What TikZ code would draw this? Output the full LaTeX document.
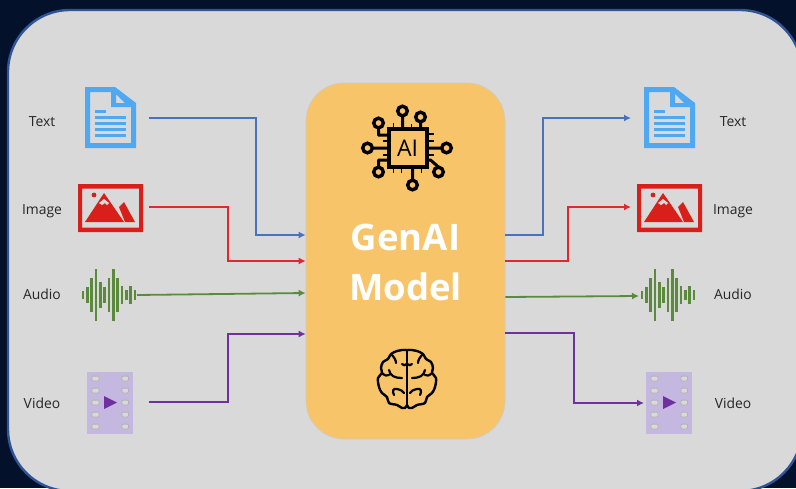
\documentclass[tikz,border=0pt]{standalone}
\usepackage{fontspec}
\setmainfont{Open Sans}
\usetikzlibrary{arrows.meta}

\definecolor{navy}{HTML}{03112A}
\definecolor{panelline}{HTML}{2F5597}
\definecolor{panelfill}{HTML}{D9D9D9}
\definecolor{modelfill}{HTML}{F8C469}
\definecolor{docblue}{HTML}{4FA8F2}
\definecolor{imgred}{HTML}{D91F1A}
\definecolor{wavegreen}{HTML}{5B8A3C}
\definecolor{filmfill}{HTML}{C5B8E0}
\definecolor{filmplay}{HTML}{7030A0}
\definecolor{lineblue}{HTML}{4A72BC}
\definecolor{linered}{HTML}{E0292F}
\definecolor{linegreen}{HTML}{5B8A3C}
\definecolor{linepurple}{HTML}{7030A0}

\tikzset{
  docicon/.pic={
    \fill[docblue, even odd rule] (-25,-31) -- (5,-31) -- (26,-15) -- (26,30) -- (-25,30) -- cycle
      (-20,-26) -- (1,-26) -- (1,-11) -- (21,-11) -- (21,25) -- (-20,25) -- cycle
      (6,-24) -- (6,-15) -- (15,-15) -- cycle;
    \fill[docblue] (-15,-8.5) rectangle (-4,-5.5);
    \foreach \yy in {-1,5,11,17} \fill[docblue] (-15,\yy-1.5) rectangle (16,\yy+1.5);
  },
  imgicon/.pic={
    \fill[imgred, even odd rule] (-32,-24) rectangle (33,24) (-28,-19.5) rectangle (29,19.5);
    \fill[imgred] (-16,-13) circle (2.4);
    \fill[imgred] (-25,14) -- (-6,-15) -- (14,14) -- cycle;
    \fill[imgred] (9,-1) -- (14,-6) -- (25,14) -- (15,14) -- cycle;
    \fill[panelfill] (-11,-5) -- (-6,-9) -- (-1,-5) -- (-3,-3) -- (-5,-5) -- (-8,-3) -- cycle;
  },
  waveicon/.pic={
    \foreach \xx/\hh in {-26/4,-21.7/8,-17.4/17,-13/26,-8.7/13,-4.4/8,0/17,4.3/26,8.7/17,13/9,17.3/5,21.6/9,26/5}
      \draw[wavegreen, line width=2.5pt] (\xx,-\hh) -- (\xx,\hh);
  },
  filmicon/.pic={
    \fill[filmfill] (-23,-31) rectangle (23,31);
    \foreach \yy in {-24,-12,0,12,24} {
      \fill[panelfill, draw=black!30, line width=.8pt, rounded corners=1pt] (-18,\yy-2.4) rectangle (-11,\yy+2.4);
      \fill[panelfill, draw=black!30, line width=.8pt, rounded corners=1pt] (12,\yy-2.4) rectangle (18.5,\yy+2.4);
    }
    \fill[filmplay] (-6,-6.5) -- (7,0) -- (-6,6.5) -- cycle;
  },
  chipicon/.pic={
    \draw[line width=4pt] (-19,-19) rectangle (19,19);
    \foreach \xx/\yy in {-5/-37,13/-31,-29/-25,-40/0,39/0,-29/24,31/24,5/37}
      \draw[line width=3.4pt, fill=modelfill] (\xx,\yy) circle (4.8);
    \draw[line width=3pt, line join=round]
      (-5,-32) -- (-5,-19) (13,-26) -- (13,-19) (-35,0) -- (-19,0) (34,0) -- (19,0) (5,32) -- (5,19)
      (-29,-20) -- (-29,-13) -- (-19,-13) (-29,19) -- (-29,12) -- (-19,12) (31,19) -- (23,12) -- (19,12);
    \draw[line width=1.9pt]
      (-14,-25) -- (-14,-19) (4,-24) -- (4,-19) (19,-14) -- (26,-14) (19,-7) -- (26,-7)
      (19,7) -- (26,7) (-25,-7) -- (-19,-7) (-25,7) -- (-19,7)
      (-14,19) -- (-14,25) (-6,19) -- (-6,25) (14,19) -- (14,25);
  },
  halfbrain/.pic={
    \draw[line width=2.4pt, line cap=round, line join=round] plot[smooth, tension=.6] coordinates {
      (0,-31) (-5,-31) (-10,-30) (-16,-27) (-19,-22) (-24,-19) (-26,-13) (-25,-8) (-29,-3)
      (-28,6) (-25,12) (-20,16) (-18,22) (-10,24) (-5,27) (-2,27) (0,24)};
    \draw[line width=2.2pt, line cap=round]
      (-16,-27) .. controls (-13,-24) and (-11,-21) .. (-11,-18)
      (-18,-11) .. controls (-17,-5) and (-12,-3) .. (-5,-3)
      (0,-17) .. controls (-2,-15) and (-4,-16) .. (-5,-17)
      (-25,-8) .. controls (-22,-5) and (-20,-5) .. (-18,-6)
      (-13,14) .. controls (-15,10) and (-14,7) .. (-10,8)
      .. controls (-6,9) and (-4,10) .. (-3,12);
  },
}

\begin{document}
\begin{tikzpicture}[x=1pt, y=-1pt,
        panel/.style={draw=panelline, line width=2.4pt, fill=panelfill, rounded corners=62pt},
        model/.style={rectangle, draw=black!20, line width=.6pt, fill=modelfill, rounded corners=38pt, minimum width=199pt, minimum height=356pt, inner sep=0pt},
        lbl/.style={text=black!85, font=\fontsize{13.9}{16}\selectfont, inner sep=0pt},
        flow/.style={-{Latex[length=7pt, width=7pt]}, line width=1.4pt},
        ]

      \useasboundingbox (0, 0) rectangle (796, 488);
      \clip (0, 0) rectangle (796, 488);
      \fill[navy] (0, 0) rectangle (796, 488);
      \draw[panel] (8, 10) rectangle (802, 491);

      \node[model] (genai) at (405.5, 261) {};
      \node[text=white, font=\bfseries\fontsize{36.5}{50}\selectfont, align=center, inner sep=0pt] (title) at (405.5, 262.5) {GenAI\\Model};
      \pic at (407.5, 148) {chipicon};
      \node[font=\fontsize{23}{23}\selectfont, inner sep=0pt] (chiptxt) at (407.5, 148) {AI};
      \pic at (407, 381) {halfbrain};
      \pic[xscale=-1] at (407, 381) {halfbrain};
      \draw[line width=2.4pt] (407, 351) -- (407, 405);

      \pic at (110, 118) {docicon};
      \pic at (110, 208) {imgicon};
      \pic at (109, 295) {waveicon};
      \pic at (110, 402.5) {filmicon};

      \pic at (669, 118) {docicon};
      \pic at (669, 208) {imgicon};
      \pic at (668, 295) {waveicon};
      \pic at (669, 402.5) {filmicon};

      \node[lbl] (tin) at (42, 122) {Text};
      \node[lbl] (iin) at (42, 211.5) {Image};
      \node[lbl] (ain) at (42, 294) {Audio};
      \node[lbl] (vin) at (42, 403) {Video};
      \node[lbl] (tout) at (733, 122) {Text};
      \node[lbl] (iout) at (733, 211.5) {Image};
      \node[lbl] (aout) at (733, 294) {Audio};
      \node[lbl] (vout) at (733, 403) {Video};

      \coordinate (ts) at (149, 118);
      \coordinate (is) at (149, 207);
      \coordinate (as) at (137, 295);
      \coordinate (vs) at (149, 402);
      \coordinate (te) at (631, 118);
      \coordinate (ie) at (631, 207);
      \coordinate (ae) at (639, 296);
      \coordinate (ve) at (644, 403);

      \draw[flow, lineblue] (ts) -| (256, 235) -- (genai.west |- 256, 235);
      \draw[flow, linered] (is) -| (228, 261) -- (genai.west |- 228, 261);
      \draw[flow, linegreen, line width=1.8pt] (as) -- (genai.west |- 137, 293);
      \draw[flow, linepurple] (vs) -| (228, 334) -- (genai.west |- 228, 334);

      \draw[flow, lineblue] (genai.east |- 543, 235) -| (543, 118) -- (te);
      \draw[flow, linered] (genai.east |- 568, 261) -| (568, 207) -- (ie);
      \draw[flow, linegreen, line width=1.8pt] (genai.east |- 568, 297) -- (ae);
      \draw[flow, linepurple] (genai.east |- 574, 333) -| (574, 403) -- (ve);
    \end{tikzpicture}
\end{document}
